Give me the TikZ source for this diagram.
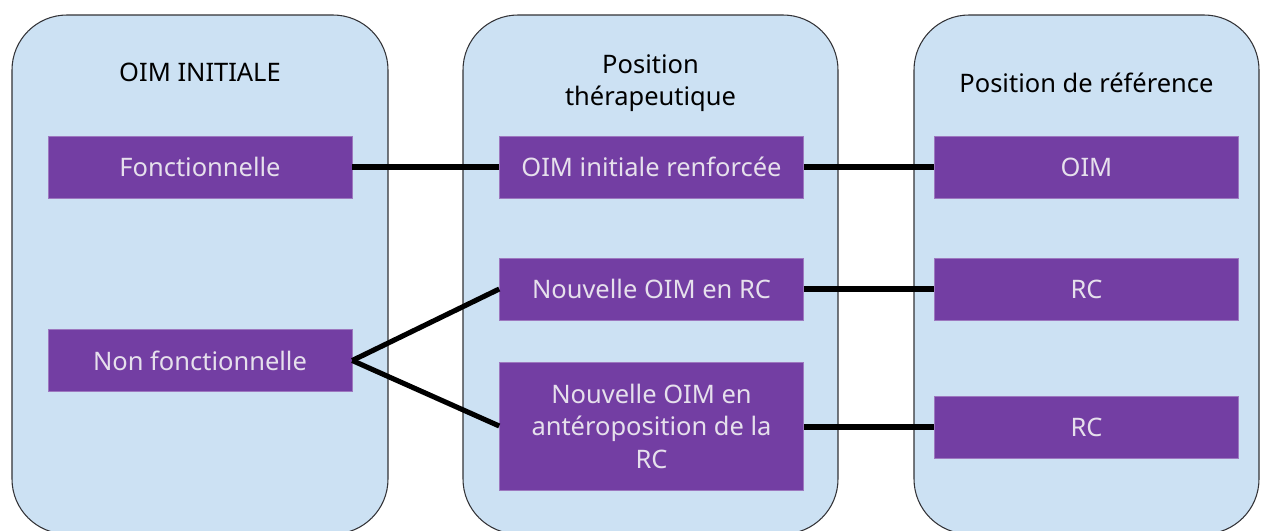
\documentclass[tikz,border=0pt]{standalone}
\usepackage{fontspec}
\setmainfont{Noto Sans}
\usetikzlibrary{positioning}
\definecolor{sky}{RGB}{204,225,243}
\definecolor{rim}{RGB}{50,50,54}
\definecolor{plum}{RGB}{115,62,163}
\definecolor{mist}{RGB}{230,224,236}
\tikzset{
  column/.style={draw=rim,fill=sky,line width=0.6pt,rounded corners=1.1cm,minimum height=10.38cm},
  head/.style={font=\fontsize{14.5}{18}\selectfont,text=black,align=center},
  pbox/.style={fill=plum,draw=plum!70!white,line width=0.3pt,text=mist,minimum width=6.08cm,
    minimum height=1.24cm,align=center,font=\fontsize{14.5}{18.5}\selectfont},
  link/.style={line width=2.9pt,draw=black},
}

\begin{document}
\begin{tikzpicture}
    \clip (0,0) rectangle (25.28,-10.62);
    % columns
    \foreach \x/\w/\n in {4.0/7.52/c1,13.01/7.5/c2,21.73/6.9/c3}
      \node[column,minimum width=\w cm] (\n) at (\x,-5.49) {};
    \node[head] (h1) at (4.0,-1.44) {OIM INITIALE};
    \node[head] (h2) at (13.01,-1.66) {Position\\thérapeutique};
    \node[head] (h3) at (21.73,-1.66) {Position de référence};
    % boxes
    \node[pbox] (fonc) at (4.0,-3.34) {Fonctionnelle};
    \node[pbox] (nonfonc) at (4.0,-7.21) {Non fonctionnelle};
    \node[pbox] (renf) at (13.03,-3.34) {OIM initiale renforcée};
    \node[pbox] (nrc) at (13.03,-5.78) {Nouvelle OIM en RC};
    \node[pbox,minimum height=2.56cm] (ante) at (13.03,-8.52) {Nouvelle OIM en\\antéroposition de la\\RC};
    \node[pbox] (oim) at (21.73,-3.34) {OIM};
    \node[pbox] (rc1) at (21.73,-5.78) {RC};
    \node[pbox] (rc2) at (21.73,-8.54) {RC};
    % links
    \draw[link] (fonc) -- (renf);
    \draw[link] (renf) -- (oim);
    \draw[link] (nonfonc.east) -- (nrc.west);
    \draw[link] (nonfonc.east) -- (ante.west);
    \draw[link] (nrc) -- (rc1);
    \draw[link] (ante.east |- rc2) -- (rc2);
\end{tikzpicture}
\end{document}
